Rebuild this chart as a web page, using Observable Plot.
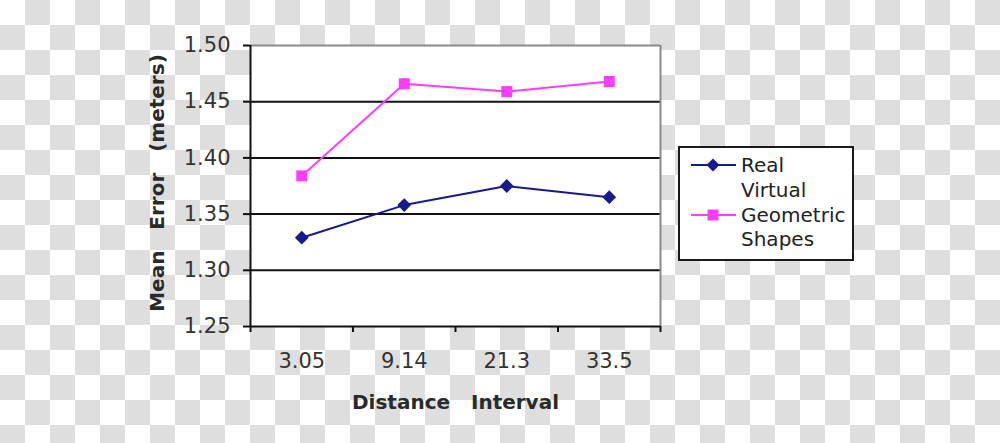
<!DOCTYPE html>
<html>
<head>
<meta charset="utf-8">
<script src="https://cdn.jsdelivr.net/npm/d3@7"></script>
<script src="https://cdn.jsdelivr.net/npm/@observablehq/plot@0.6"></script>
<style>
html, body { margin: 0; padding: 0; width: 1000px; height: 443px; overflow: hidden; }
body {
  background: repeating-conic-gradient(#dedede 0 25%, #ffffff 0 50%) 0 0 / 50px 50px;
  font-family: "DejaVu Sans", sans-serif;
}
#wrap { position: relative; width: 1000px; height: 443px; }
#legend {
  position: absolute; left: 678px; top: 146px; width: 176px; height: 115px;
  box-sizing: border-box; border: 2px solid #1a1a1a; background: #fff;
}
#legend svg { position: absolute; left: 0; top: 0; overflow: visible; }
</style>
</head>
<body>
<div id="wrap"></div>
<script>
const categories = ["3.05", "9.14", "21.3", "33.5"];
const realVirtual = [1.329, 1.358, 1.375, 1.365];
const geometricShapes = [1.384, 1.466, 1.459, 1.468];
const yTicks = [1.25, 1.30, 1.35, 1.40, 1.45, 1.50];
const seriesNames = ["Real Virtual", "Geometric Shapes"];
const legendLines = [["Real", "Virtual"], ["Geometric", "Shapes"]];
const seriesColors = ["#161a8c", "#ff3cff"];
const seriesSymbols = ["diamond2", "square"];
const xLabel = "Distance\u00a0\u00a0\u00a0Interval";
const yLabel = "Mean\u00a0\u00a0\u00a0Error\u00a0\u00a0\u00a0(meters)";

const data = categories.flatMap((c, i) => [
  {i, cat: c, value: realVirtual[i], series: seriesNames[0]},
  {i, cat: c, value: geometricShapes[i], series: seriesNames[1]}
]);
const bounds = d3.range(categories.length + 1).map(k => k - 0.5);

const chart = Plot.plot({
  width: 1000, height: 443,
  marginLeft: 250, marginRight: 340, marginTop: 45, marginBottom: 117,
  style: {background: "transparent", fontFamily: "DejaVu Sans", fontSize: "21px", color: "#333"},
  x: {type: "linear", domain: [-0.5, categories.length - 0.5]},
  y: {domain: [yTicks[0], yTicks[yTicks.length - 1]]},
  color: {domain: seriesNames, range: seriesColors},
  symbol: {domain: seriesNames, range: seriesSymbols},
  marks: [
    Plot.frame({fill: "white", stroke: "none"}),
    Plot.gridY(yTicks.slice(1, -1), {stroke: "#111", strokeOpacity: 1, strokeWidth: 2}),
    Plot.ruleY([yTicks[yTicks.length - 1]], {stroke: "#8a8a8a", strokeWidth: 2}),
    Plot.ruleX([categories.length - 0.5], {stroke: "#8a8a8a", strokeWidth: 2}),
    Plot.ruleY([yTicks[0]], {stroke: "#111", strokeWidth: 2}),
    Plot.ruleX([-0.5], {stroke: "#111", strokeWidth: 2}),
    Plot.axisY({ticks: yTicks, tickFormat: d3.format(".2f"), tickSize: 7, tickPadding: 13,
      stroke: "#111", strokeWidth: 2, fill: "#333", label: null}),
    Plot.axisX({ticks: bounds, tickSize: 6, tickFormat: () => "", stroke: "#111", strokeWidth: 2, label: null}),
    Plot.axisX({ticks: d3.range(categories.length), tickSize: 0, tickPadding: 27,
      tickFormat: i => categories[i], fill: "#333", label: null}),
    Plot.text([yLabel], {frameAnchor: "left", rotate: -90, dx: -93, dy: -3, textAnchor: "middle",
      lineAnchor: "middle", fontWeight: "bold", fontSize: 20, fill: "#2a2a2a"}),
    Plot.text([xLabel], {frameAnchor: "bottom", dy: 76, textAnchor: "middle",
      lineAnchor: "middle", fontWeight: "bold", fontSize: 20, fill: "#2a2a2a"}),
    Plot.line(data, {x: "i", y: "value", z: "series", stroke: "series", strokeWidth: 2}),
    Plot.dot(data, {x: "i", y: "value", fill: "series", symbol: "series", r: 6.2})
  ]
});
const wrap = document.getElementById("wrap");
wrap.appendChild(chart);

// Legend
const legend = document.createElement("div");
legend.id = "legend";
const ns = "http://www.w3.org/2000/svg";
const svg = document.createElementNS(ns, "svg");
svg.setAttribute("width", 176); svg.setAttribute("height", 115);
const lineY = [17, 67];
const textBase = [[24, 49], [74, 98]];
seriesNames.forEach((name, k) => {
  const l = document.createElementNS(ns, "line");
  l.setAttribute("x1", 11); l.setAttribute("x2", 56);
  l.setAttribute("y1", lineY[k]); l.setAttribute("y2", lineY[k]);
  l.setAttribute("stroke", seriesColors[k]); l.setAttribute("stroke-width", 2);
  svg.appendChild(l);
  const p = document.createElementNS(ns, "path");
  if (seriesSymbols[k] === "square") {
    p.setAttribute("d", d3.symbol(d3.symbolSquare, 121)());
  } else {
    p.setAttribute("d", "M0,-6.5L6.5,0L0,6.5L-6.5,0Z");
  }
  p.setAttribute("transform", `translate(33,${lineY[k]})`);
  p.setAttribute("fill", seriesColors[k]);
  svg.appendChild(p);
  legendLines[k].forEach((t, j) => {
    const tx = document.createElementNS(ns, "text");
    tx.setAttribute("x", 61); tx.setAttribute("y", textBase[k][j]);
    tx.setAttribute("font-family", "DejaVu Sans");
    tx.setAttribute("font-size", 20);
    tx.setAttribute("fill", "#222");
    tx.textContent = t;
    svg.appendChild(tx);
  });
});
legend.appendChild(svg);
wrap.appendChild(legend);
</script>
</body>
</html>
